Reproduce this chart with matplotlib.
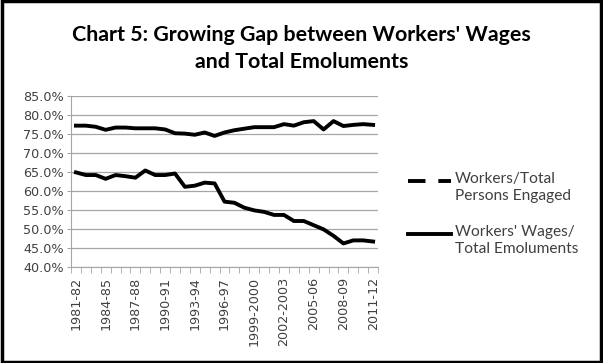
import numpy as np
import matplotlib.pyplot as plt
from matplotlib.lines import Line2D
from matplotlib.patches import Rectangle

# years 1981-82 .. 2011-12
years = ['1981-82', '1982-83', '1983-84', '1984-85', '1985-86', '1986-87', '1987-88',
         '1988-89', '1989-90', '1990-91', '1991-92', '1992-93', '1993-94', '1994-95',
         '1995-96', '1996-97', '1997-98', '1998-99', '1999-2000', '2000-01', '2001-02',
         '2002-2003', '2003-04', '2004-05', '2005-06', '2006-07', '2007-08', '2008-09',
         '2009-10', '2010-11', '2011-12']

workers_persons = [77.2, 77.2, 76.9, 76.1, 76.7, 76.7, 76.5, 76.5, 76.5, 76.2, 75.2,
                   75.1, 74.8, 75.4, 74.5, 75.4, 76.0, 76.4, 76.8, 76.8, 76.8,
                   77.6, 77.2, 78.1, 78.4, 76.2, 78.4, 77.1, 77.4, 77.6, 77.4]

wages_emol = [64.9, 64.2, 64.2, 63.2, 64.2, 63.9, 63.5, 65.4, 64.2, 64.2, 64.6,
              61.1, 61.4, 62.2, 62.0, 57.2, 56.9, 55.6, 54.9, 54.5, 53.7,
              53.7, 52.1, 52.1, 51.0, 49.9, 48.2, 46.2, 47.0, 47.0, 46.7]

labels = ['Workers/Total\nPersons Engaged', "Workers' Wages/\nTotal Emoluments"]
yticks = [40, 45, 50, 55, 60, 65, 70, 75, 80, 85]

W, H = 603, 363
fig = plt.figure(figsize=(W / 100, H / 100), dpi=100)
ax = fig.add_axes([0.1177, 0.2645, 0.5093, 0.471])

x = np.arange(len(years))
ax.plot(x, workers_persons, color='black', lw=2.8)
ax.plot(x, wages_emol, color='black', lw=2.8)

ax.set_xlim(-0.5, len(years) - 0.5)
ax.set_ylim(40, 85)
ax.set_yticks(yticks)
ax.set_yticklabels(['%.1f%%' % v for v in yticks], fontsize=9.2, color='#404040')
ax.yaxis.grid(True, color='#a6a6a6', lw=0.9)
ax.set_axisbelow(True)
ax.tick_params(axis='y', length=3, color='#a6a6a6', pad=2)

ax.set_xticks(x[::3])
ax.set_xticklabels(years[::3], rotation=90, fontsize=9.2, color='#404040')
ax.set_xticks(np.arange(len(years) + 1) - 0.5, minor=True)
ax.tick_params(axis='x', which='major', length=0, pad=7)
ax.tick_params(axis='x', which='minor', length=4, color='#a6a6a6')

for s in ['top', 'right']:
    ax.spines[s].set_visible(False)
ax.spines['left'].set_color('#a6a6a6')
ax.spines['bottom'].set_color('#a6a6a6')

fig.text(0.5, 1 - 48.5 / H, "Chart 5: Growing Gap between Workers' Wages\nand Total Emoluments",
         ha='center', va='center', fontsize=15.4, fontweight='bold', family='Lato',
         linespacing=1.4)

# legend drawn by hand so the sample sits on the first text line
styles = [(0, (4.5, 3.3)), '-']
ys = [181, 234]
for lab, st, yy in zip(labels, styles, ys):
    fig.add_artist(Line2D([408 / W, 451 / W], [1 - yy / H, 1 - yy / H],
                          color='black', lw=2.8, ls=st, transform=fig.transFigure))
    fig.text(455 / W, 1 - (yy - 9) / H, lab, ha='left', va='top', fontsize=11.2,
             family='Lato', color='#404040', linespacing=1.3)

fig.patches.append(Rectangle((0.003, 0.004), 0.994, 0.992, transform=fig.transFigure,
                             fill=False, lw=2.5, ec='black'))

fig.savefig('out.png', dpi=100)
